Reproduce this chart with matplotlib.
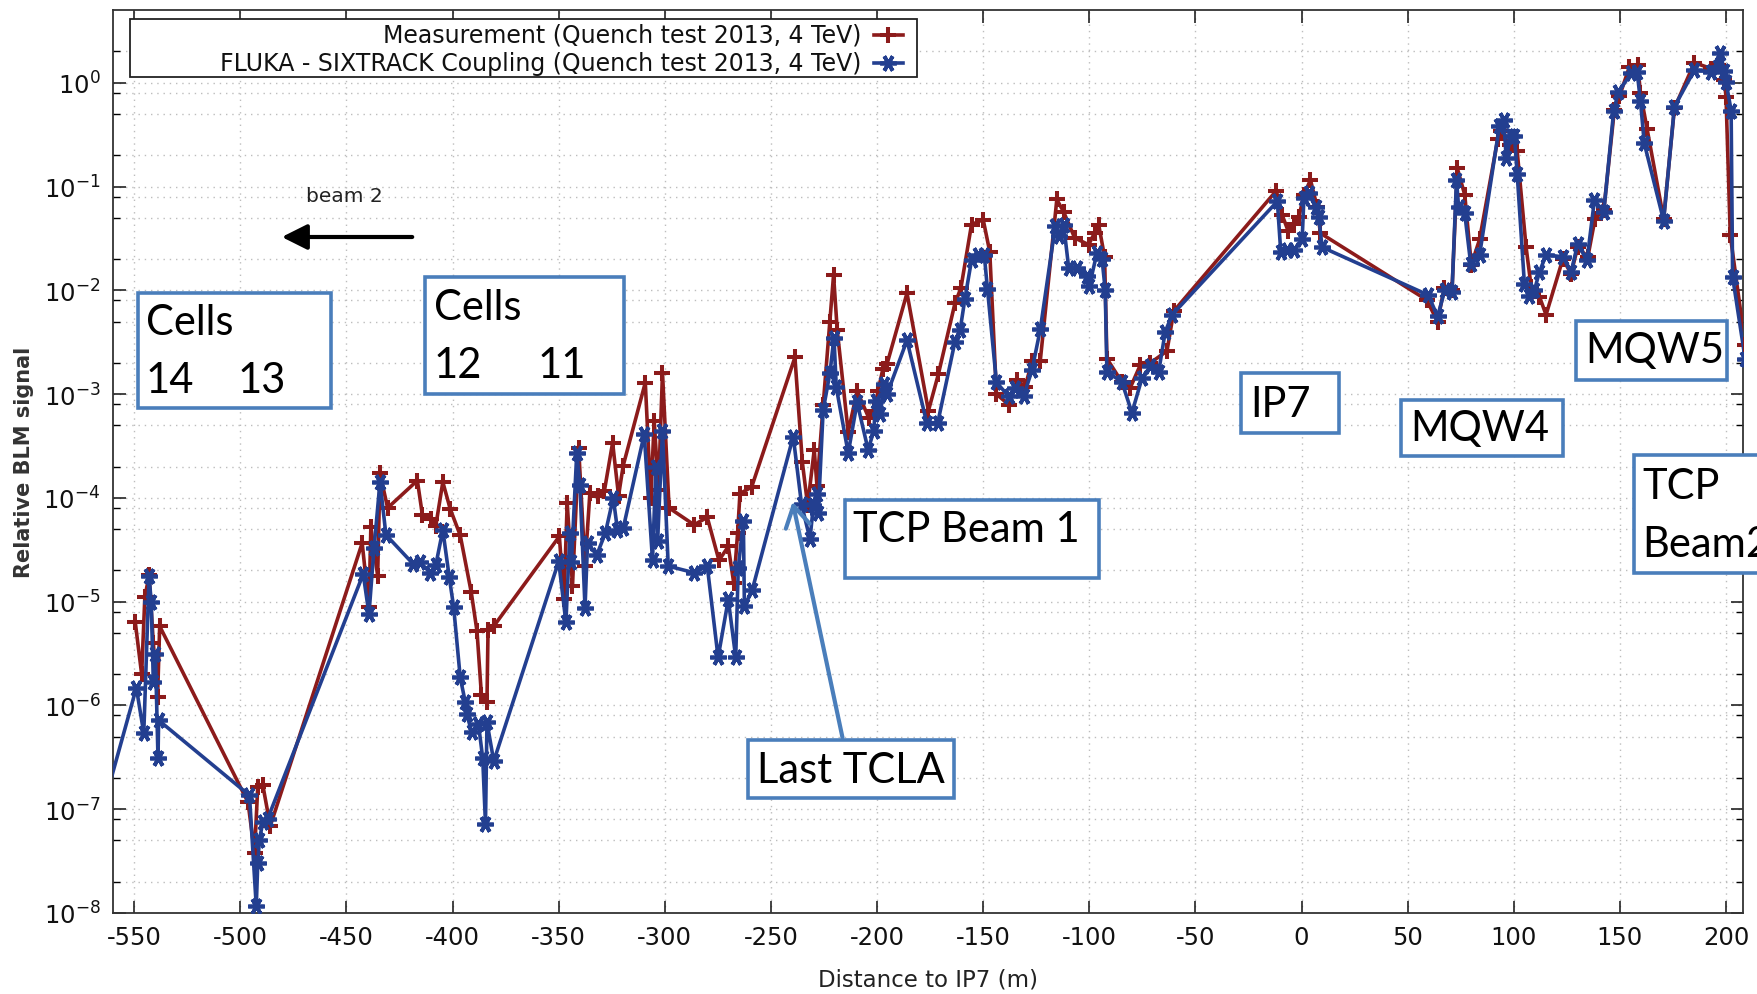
import numpy as np
import matplotlib
matplotlib.use("Agg")
import matplotlib.pyplot as plt
from matplotlib import ticker, patches, transforms
from matplotlib.lines import Line2D

# ---------------- data ----------------
meas_x = [-549.5, -546.5, -545.0, -543.0, -541.0, -539.0, -538.0,
          -496.4, -493.3, -491.8, -489.4, -485.9,
          -442.6, -439.4, -438.5, -435.3, -434.2, -430.6, -416.6, -414.2, -410.1, -407.9,
          -404.6, -401.1, -396.4, -391.2, -388.5, -386.4, -383.8, -383.3, -380.6,
          -349.7, -347.5, -346.0, -343.5, -340.6, -337.6, -335.3, -331.7, -328.5, -324.6,
          -321.8, -319.6, -309.2, -306.6, -305.0, -303.0, -301.1, -298.0, -286.2, -280.0,
          -274.5, -270.1, -267.5, -265.7, -264.6, -259.1,
          -238.7, -235.2, -232.7, -229.6, -228.3, -225.4, -222.3, -220.5, -218.75, -213.6,
          -209.4, -203.9, -201.6, -199.5, -197.3, -195.3, -185.9, -175.8, -171.1, -163.3,
          -160.5, -155.5, -150.0, -146.9, -143.75, -138.0, -134.1, -130.2, -127.0, -123.1,
          -115.3, -112.1, -106.9, -100.3, -97.5, -95.6, -92.8, -91.7, -84.6, -80.7, -76.0,
          -71.2, -63.4, -60.2,
          -11.9, -9.1, -6.25, -3.6, -1.25, 1.1, 4.2, 7.3, 8.9,
          58.9, 64.1, 67.2, 70.9, 73.4, 76.9, 80.0, 83.9, 92.5, 94.0, 98.0, 101.6, 105.8,
          108.2, 112.1, 115.2, 123.1, 127.0, 130.1, 134.9, 138.3, 142.4, 147.4, 149.8,
          154.5, 158.4, 159.7, 162.8, 170.6, 175.7, 185.1, 193.0, 196.0, 199.2, 200.0,
          202.0, 209.0]
meas_y = [6.3e-6, 2.0e-6, 1.1e-5, 1.8e-5, 4.0e-6, 1.2e-6, 5.8e-6,
          1.17e-7, 3.8e-8, 1.64e-7, 1.7e-7, 6.9e-8,
          3.67e-5, 8.9e-6, 5.2e-5, 1.78e-5, 1.72e-4, 8.0e-5, 1.47e-4, 6.8e-5, 6.2e-5, 5.4e-5,
          1.42e-4, 7.8e-5, 4.36e-5, 1.23e-5, 5.2e-6, 1.25e-6, 1.07e-6, 5.3e-6, 5.8e-6,
          4.26e-5, 1.06e-5, 8.9e-5, 1.43e-5, 3.03e-4, 2.2e-5, 1.12e-4, 1.04e-4, 1.16e-4, 3.4e-4,
          1.05e-4, 2.05e-4, 1.29e-3, 1.0e-4, 5.5e-4, 1.2e-4, 1.61e-3, 8.0e-5, 5.5e-5, 6.5e-5,
          2.5e-5, 3.4e-5, 1.5e-5, 4.6e-5, 1.1e-4, 1.27e-4,
          2.26e-3, 2.2e-4, 8.5e-5, 2.9e-4, 1.3e-4, 7.8e-4, 4.9e-3, 1.4e-2, 4.1e-3, 4.3e-4,
          1.07e-3, 5.9e-4, 6.9e-4, 1.07e-3, 1.74e-3, 1.95e-3, 9.4e-3, 6.9e-4, 1.56e-3, 7.5e-3,
          1.05e-2, 4.3e-2, 4.8e-2, 2.35e-2, 1.0e-3, 7.9e-4, 1.37e-3, 1.18e-3, 2.07e-3, 2.1e-3,
          7.5e-2, 5.7e-2, 3.2e-2, 2.75e-2, 3.6e-2, 4.3e-2, 2.1e-2, 2.2e-3, 1.3e-3, 1.15e-3, 1.9e-3,
          2.0e-3, 2.6e-3, 6.3e-3,
          9.1e-2, 5.3e-2, 3.7e-2, 4.4e-2, 5.1e-2, 8.3e-2, 1.16e-1, 6.4e-2, 3.55e-2,
          8.1e-3, 5.0e-3, 1.05e-2, 1.0e-2, 1.5e-1, 8.3e-2, 1.76e-2, 3.1e-2, 2.9e-1, 3.4e-1, 2.5e-1, 2.2e-1, 2.6e-2,
          1.08e-2, 8.7e-3, 5.8e-3, 2.0e-2, 1.45e-2, 2.6e-2, 2.1e-2, 4.9e-2, 5.9e-2, 5.5e-1, 7.4e-1,
          1.43, 1.48, 7.9e-1, 3.6e-1, 4.9e-2, 5.7e-1, 1.56, 1.37, 1.48, 1.06, 7.3e-1,
          3.4e-2, 3.0e-3]

sim_x = [-570.0, -549.0, -545.5, -543.0, -542.0, -541.0, -540.0, -538.8, -538.5,
         -495.7, -492.5, -491.8, -491.0, -489.4, -487.1,
         -442.1, -439.4, -437.0, -434.2, -431.4, -418.5, -415.3, -410.6, -407.9, -404.6,
         -401.6, -399.5, -396.4, -394.0, -393.4, -390.9, -387.8, -385.8, -384.5, -383.8, -380.6,
         -350.0, -346.6, -344.7, -344.0, -341.5, -340.0, -337.6, -336.4, -332.1, -328.0,
         -324.3, -322.3, -319.6, -309.7, -305.8, -304.2, -303.4, -301.1, -298.4, -286.2,
         -280.0, -274.9, -270.1, -266.6, -265.4, -263.0, -262.5, -258.8,
         -239.5, -235.6, -231.6, -230.0, -228.5, -227.7, -225.4, -222.2, -220.3, -219.2,
         -213.6, -209.4, -204.2, -201.6, -200.5, -198.4, -196.9, -195.3, -185.9, -176.6,
         -171.4, -163.3, -160.9, -158.6, -155.5, -152.3, -149.5, -148.0, -143.75, -138.0,
         -134.9, -131.0, -127.0, -123.1, -116.0, -114.5, -112.1, -109.7, -105.8, -101.1,
         -100.0, -96.4, -94.0, -92.5, -91.7, -84.6, -79.9, -75.2, -71.2, -67.3, -64.2, -61.0,
         -11.4, -9.8, -6.7, -3.6, 0.3, 1.1, 3.4, 6.6, 8.1, 9.7,
         59.7, 64.1, 67.5, 70.9, 73.0, 74.0, 76.9, 79.7, 83.9, 93.2, 95.3, 96.4, 98.7,
         100.3, 101.6, 105.0, 107.4, 109.7, 112.1, 115.2, 123.1, 127.0, 130.1, 134.5,
         138.0, 142.4, 147.1, 149.3, 155.3, 158.1, 159.7, 161.5, 170.6, 175.7, 185.1,
         193.0, 196.0, 197.3, 199.2, 200.0, 202.4, 203.1, 209.0]
sim_y = [4.2e-8, 1.48e-6, 5.4e-7, 1.75e-5, 1.0e-5, 1.7e-6, 3.1e-6, 3.1e-7, 7.2e-7,
         1.36e-7, 1.16e-8, 3.0e-8, 5.1e-8, 7.5e-8, 8.1e-8,
         1.85e-5, 7.6e-6, 3.3e-5, 1.42e-4, 4.4e-5, 2.3e-5, 2.4e-5, 1.9e-5, 2.26e-5, 4.9e-5,
         1.74e-5, 8.9e-6, 1.86e-6, 1.07e-6, 8.3e-7, 5.5e-7, 6.6e-7, 3.1e-7, 7.2e-8, 6.9e-7, 2.9e-7,
         2.45e-5, 6.3e-6, 4.6e-5, 2.4e-5, 2.7e-4, 1.34e-4, 8.7e-6, 3.7e-5, 2.8e-5, 4.6e-5,
         1.0e-4, 4.9e-5, 5.1e-5, 4.1e-4, 2.5e-5, 2.0e-4, 3.8e-5, 4.4e-4, 2.2e-5, 1.9e-5,
         2.2e-5, 2.9e-6, 1.05e-5, 2.9e-6, 2.1e-5, 6.0e-5, 9.0e-6, 1.3e-5,
         3.9e-4, 8.7e-5, 4.0e-5, 8.5e-5, 1.1e-4, 7.2e-5, 7.0e-4, 1.6e-3, 3.5e-3, 1.16e-3,
         2.7e-4, 8.3e-4, 2.9e-4, 4.4e-4, 8.6e-4, 6.4e-4, 1.25e-3, 1.0e-3, 3.3e-3, 5.3e-4,
         5.3e-4, 3.2e-3, 4.1e-3, 8.3e-3, 1.95e-2, 2.2e-2, 2.2e-2, 1.04e-2, 1.3e-3, 9.5e-4,
         1.15e-3, 9.5e-4, 1.7e-3, 4.2e-3, 4.2e-2, 3.3e-2, 4.3e-2, 1.64e-2, 1.64e-2, 1.36e-2,
         1.09e-2, 2.3e-2, 2.0e-2, 1.01e-2, 1.65e-3, 1.3e-3, 6.6e-4, 1.42e-3, 1.85e-3, 1.65e-3, 4.0e-3, 5.8e-3,
         7.2e-2, 2.35e-2, 2.45e-2, 2.45e-2, 3.1e-2, 7.7e-2, 8.6e-2, 6.4e-2, 5.1e-2, 2.6e-2,
         9.0e-3, 5.6e-3, 1.0e-2, 9.7e-3, 1.16e-1, 6.4e-2, 5.5e-2, 1.8e-2, 2.2e-2, 3.8e-1, 4.4e-1, 1.9e-1, 3.1e-1,
         3.1e-1, 1.33e-1, 1.16e-2, 8.9e-3, 1.0e-2, 1.5e-2, 2.2e-2, 2.1e-2, 1.5e-2, 2.8e-2, 1.95e-2,
         7.4e-2, 5.7e-2, 5.4e-1, 8.2e-1, 1.23, 1.28, 6.6e-1, 2.6e-1, 4.7e-2, 5.9e-1, 1.32,
         1.28, 1.42, 1.92, 1.3, 1.02, 5.4e-1, 1.35e-2, 2.2e-3]

meas_label = "Measurement (Quench test 2013, 4 TeV)"
sim_label = "FLUKA - SIXTRACK Coupling (Quench test 2013, 4 TeV)"
x_ticks = list(range(-550, 201, 50))
y_exponents = list(range(-8, 1))

annotations = [
    # (text, x_px, y_px)
    ("Cells", 146, 323), ("14", 146, 381), ("13", 238, 381),
    ("Cells", 434, 308), ("12", 434, 366), ("11", 538, 366),
    ("TCP Beam 1", 853, 530),
    ("Last TCLA", 757, 771),
    ("IP7", 1250, 405),
    ("MQW4", 1410, 429),
    ("MQW5", 1585, 351),
    ("TCP", 1642, 487), ("Beam2", 1642, 545),
]
boxes = [  # x0, x1, y0, y1 (pixels, top-down)
    (138, 331, 294, 409),
    (425, 624, 278, 395),
    (845, 1099, 501, 579),
    (748, 954, 741, 799),
    (1241, 1339, 374, 434),
    (1401, 1563, 401, 457),
    (1576, 1727, 322, 381),
    (1634, 1775, 456, 574),
]

# ---------------- style ----------------
plt.rcParams['font.family'] = ['DejaVu Sans']
plt.rcParams['axes.unicode_minus'] = False
RED = '#8c1b1b'
BLUE = '#233f90'
BOXBLUE = '#4a7ebb'

W, H = 1758, 995
fig = plt.figure(figsize=(W / 100, H / 100), dpi=100)
ax = fig.add_axes([113 / W, 1 - 914 / H, 1630 / W, 902.8 / H])

asterisk = (6, 2, 90)
ax.plot(meas_x, meas_y, color=RED, lw=2.6, marker='+', ms=12, mew=2.9, zorder=3)
ax.plot(sim_x, sim_y, color=BLUE, lw=2.6, marker=asterisk, ms=12, mew=2.7, zorder=4)

ax.set_yscale('log')
ax.set_xlim(-560, 208)
ax.set_ylim(1e-8, 5)
ax.set_xticks(x_ticks)
major_y = [10.0 ** e for e in y_exponents]
minor_y = [m * 10.0 ** e for e in range(-9, 1) for m in (2, 5, 8) if 1e-8 < m * 10.0 ** e < 5]
ax.yaxis.set_major_locator(ticker.FixedLocator(major_y))
ax.yaxis.set_minor_locator(ticker.FixedLocator(minor_y))
ax.yaxis.set_minor_formatter(ticker.NullFormatter())
ax.yaxis.set_major_formatter(ticker.FixedFormatter([r'$10^{%d}$' % e for e in y_exponents]))

ax.grid(True, which='major', axis='both', color='#bdbdbd', lw=1.0, ls=(0, (1, 3.5)))
ax.grid(True, which='minor', axis='y', color='#bdbdbd', lw=1.0, ls=(0, (1, 3.5)))
ax.set_axisbelow(True)
ax.tick_params(which='major', direction='in', length=9, width=1.1, top=True, right=True,
               labelsize=17.5, pad=9, colors='#111111')
ax.tick_params(which='minor', direction='in', length=5, width=1.0, top=False, right=True)
for s in ax.spines.values():
    s.set_linewidth(1.3)
    s.set_color('#333333')

ax.set_xlabel("Distance to IP7 (m)", fontsize=16.5, color='#222222')
ax.xaxis.set_label_coords(0.5, -0.06)
ax.xaxis.label.set_va('top')
ax.set_ylabel("Relative BLM signal", fontsize=15, fontweight='bold', color='#333333')
ax.yaxis.set_label_coords(-0.0485, 0.5)

# pixel transform (x right, y down)
px = transforms.Affine2D().scale(1 / W, -1 / H).translate(0, 1) + fig.transFigure

# legend (gnuplot style: text right, sample on right)
fig.add_artist(patches.Rectangle((130, 20), 787, 58, transform=px, fill=True,
                                 facecolor='white', edgecolor='#222222', lw=1.3, zorder=10))
for label, yy, col, mk, mw in [(meas_label, 36, RED, '+', 2.9), (sim_label, 64, BLUE, asterisk, 2.7)]:
    fig.text(861, yy, label, transform=px, ha='right', va='center', fontsize=17,
             color='#111111', zorder=11)
    fig.add_artist(Line2D([874, 903], [yy, yy], transform=px, color=col, lw=2.6, zorder=11))
    fig.add_artist(Line2D([888.5], [yy], transform=px, color=col, marker=mk, ms=12,
                          mew=mw, lw=0, zorder=11))

# beam 2 arrow and text
fig.text(344, 196, "beam 2", transform=px, ha='center', va='center', fontsize=14.5,
         color='#222222')
fig.add_artist(patches.FancyArrowPatch((415, 238), (279, 238), transform=px,
                                       arrowstyle='-|>,head_length=0.7,head_width=0.35',
                                       mutation_scale=22, lw=3, color='black'))

# annotation boxes
for (x0, x1, y0, y1) in boxes:
    fig.add_artist(patches.Rectangle((x0, y0), x1 - x0, y1 - y0, transform=px,
                                     facecolor='white', edgecolor=BOXBLUE, lw=2.6, zorder=6))
for (s, xx, yy) in annotations:
    fig.text(xx, yy, s, transform=px, ha='left', va='center', fontsize=30,
             family=['Lato', 'DejaVu Sans'], color='black', zorder=7)

# Last TCLA arrow
fig.add_artist(patches.FancyArrowPatch((843, 741), (792, 500), transform=px,
                                       arrowstyle='->,head_length=0.6,head_width=0.35',
                                       mutation_scale=25, lw=3, color=BOXBLUE, zorder=7))

fig.savefig('out.png', dpi=100)
